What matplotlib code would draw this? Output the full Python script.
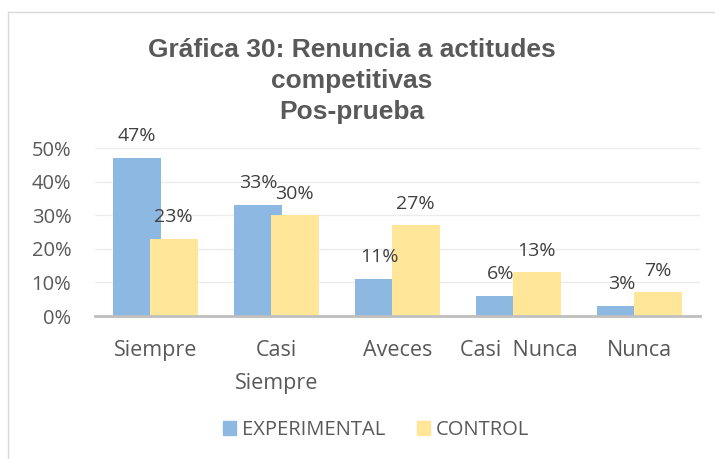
import matplotlib
matplotlib.use("Agg")
import matplotlib.pyplot as plt
from matplotlib.lines import Line2D
from matplotlib.patches import Patch
import numpy as np

categories = ["Siempre", "Casi\nSiempre", "Aveces", "Casi  Nunca", "Nunca"]
experimental = [47, 33, 11, 6, 3]
control = [23, 30, 27, 13, 7]
series_names = ["EXPERIMENTAL", "CONTROL"]
yticks = [0, 10, 20, 30, 40, 50]
title_lines = ["Gráfica 30: Renuncia a actitudes", "competitivas", "Pos-prueba"]

W, H = 715, 459
fig = plt.figure(figsize=(W / 100, H / 100), dpi=100)
fig.patch.set_facecolor("white")

# frame
fig.add_artist(Line2D([8 / W, 8 / W], [0, 1 - 12 / H], transform=fig.transFigure, color="#d9d9d9", lw=1))
fig.add_artist(Line2D([8 / W, 1], [1 - 12 / H, 1 - 12 / H], transform=fig.transFigure, color="#d9d9d9", lw=1))

left, right = 95 / W, 700 / W
bottom, top = 1 - 316 / H, 1 - 148 / H
ax = fig.add_axes([left, bottom, right - left, top - bottom])

blue = "#8db8e1"
yellow = "#ffe699"
FONT = "Open Sans"
x = np.arange(len(categories))
bw = 0.395
off = 0.15
b1 = ax.bar(x - off, experimental, bw, color=blue, zorder=2)
b2 = ax.bar(x + off, control, bw, color=yellow, zorder=3)

for bars, vals in ((b1, experimental), (b2, control)):
    for r, v in zip(bars, vals):
        ax.annotate(f"{v}%", (r.get_x() + r.get_width() / 2, r.get_height()),
                    xytext=(0, 12), textcoords="offset points", ha="center", va="baseline",
                    fontsize=14, color="#404040", family=FONT, zorder=5)

ax.set_xlim(-0.5, len(categories) - 0.5)
ax.set_ylim(0, 50)
ax.set_yticks(yticks)
ax.set_yticklabels([f"{t}%" for t in yticks], fontsize=14.5, color="#595959", family=FONT)
ax.set_xticks(x)
ax.set_xticklabels(categories, fontsize=15.5, color="#595959", family=FONT, linespacing=1.8)
ax.tick_params(axis="both", length=0)
ax.tick_params(axis="x", pad=17)
ax.tick_params(axis="y", pad=17)
ax.grid(axis="y", color="#ececec", lw=1, zorder=0)
ax.set_axisbelow(True)
for s in ("top", "right", "left"):
    ax.spines[s].set_visible(False)
ax.spines["bottom"].set_color("#bfbfbf")
ax.spines["bottom"].set_linewidth(2)
ax.spines["bottom"].set_zorder(4)
ax.set_facecolor("none")

for line, base in zip(title_lines, (57, 88, 119)):
    fig.text(352 / W, 1 - base / H, line, ha="center", va="baseline", fontsize=19,
             fontweight="bold", color="#595959", family="Liberation Sans")

handles = [Patch(color=blue), Patch(color=yellow)]
fig.legend(handles, series_names, loc="center", bbox_to_anchor=(376 / W, 1 - 430 / H), ncol=2,
           frameon=False, prop={"family": FONT, "size": 14.5}, labelcolor="#595959",
           handlelength=0.65, handleheight=0.65, handletextpad=0.3, columnspacing=1.6)

fig.savefig("out.png", dpi=100, facecolor="white")
